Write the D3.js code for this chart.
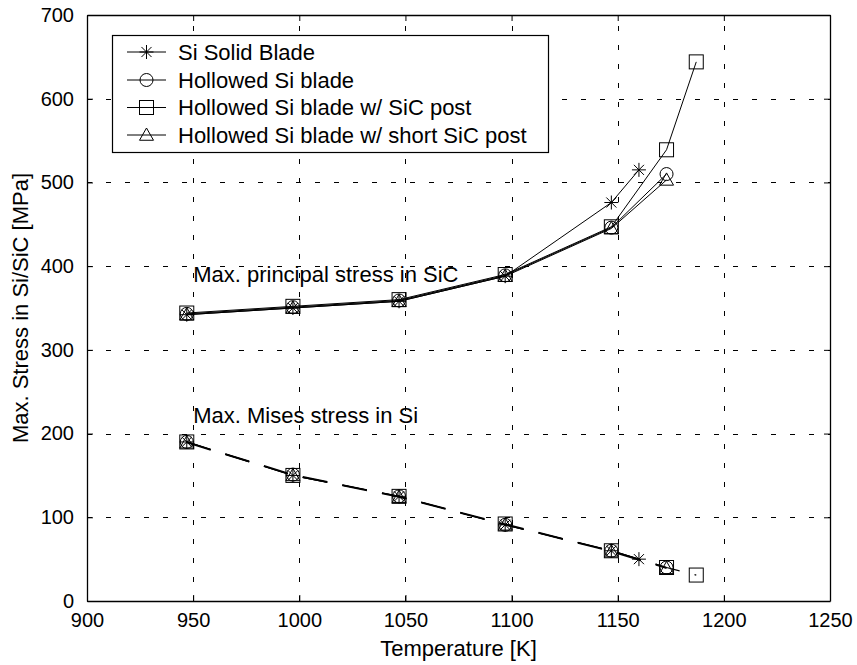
<!DOCTYPE html>
<html>
<head>
<meta charset="utf-8">
<script src="https://cdn.jsdelivr.net/npm/d3@7"></script>
<style>
  html, body { margin: 0; padding: 0; background: #fff; }
  text { font-family: "Liberation Sans", Arial, Helvetica, sans-serif; fill: #000; }
</style>
</head>
<body>
<svg id="chart" width="857" height="665"></svg>
<script>
// Temperatures [K] at which each blade configuration was evaluated
const solidTemp  = [947, 997, 1047, 1097, 1147, 1160];
const hollowTemp = [947, 997, 1047, 1097, 1147, 1173];
const postTemp   = [947, 997, 1047, 1097, 1147, 1173, 1187];
const shortTemp  = [947, 997, 1047, 1097, 1147, 1173];

// Max. principal stress in SiC [MPa]
const solidPrincipal  = [342, 350, 358, 388, 476, 515];
const hollowPrincipal = [343, 351, 359, 389, 446, 510];
const postPrincipal   = [344, 352, 360, 390, 447, 539, 644];
const shortPrincipal  = [342, 350, 358, 388, 445, 503];

// Max. Mises stress in Si [MPa]
const solidMises  = [190, 150, 125, 91, 60, 50];
const hollowMises = [190, 151, 125, 91, 60, 40];
const postMises   = [190, 150, 125, 92, 60, 40, 31];
const shortMises  = [189, 150, 124, 91, 59, 39];

const seriesNames = [
  "Si Solid Blade",
  "Hollowed Si blade",
  "Hollowed Si blade w/ SiC post",
  "Hollowed Si blade w/ short SiC post"
];
const seriesMarkers = ["star", "circle", "square", "triangle"];

const xTicks = [900, 950, 1000, 1050, 1100, 1150, 1200, 1250];
const yTicks = [0, 100, 200, 300, 400, 500, 600, 700];

(function () {
  const series = [
    { name: seriesNames[0], marker: seriesMarkers[0], t: solidTemp,  p: solidPrincipal,  m: solidMises },
    { name: seriesNames[1], marker: seriesMarkers[1], t: hollowTemp, p: hollowPrincipal, m: hollowMises },
    { name: seriesNames[2], marker: seriesMarkers[2], t: postTemp,   p: postPrincipal,   m: postMises },
    { name: seriesNames[3], marker: seriesMarkers[3], t: shortTemp,  p: shortPrincipal,  m: shortMises }
  ];

  const svg = d3.select("#chart");
  const L = 87, R = 830, T = 15, B = 601;
  const FS = 22;

  const x = d3.scaleLinear().domain([900, 1250]).range([L, R]);
  const y = d3.scaleLinear().domain([0, 700]).range([B, T]);

  // Dotted grid
  const grid = svg.append("g").attr("stroke", "#000").attr("stroke-width", 1)
    .attr("stroke-dasharray", "5,14").attr("shape-rendering", "crispEdges");
  xTicks.slice(1, -1).forEach(v => {
    grid.append("line").attr("x1", Math.round(x(v)) + 0.5).attr("x2", Math.round(x(v)) + 0.5)
      .attr("y1", B).attr("y2", T);
  });
  yTicks.slice(1, -1).forEach(v => {
    grid.append("line").attr("y1", Math.round(y(v)) + 0.5).attr("y2", Math.round(y(v)) + 0.5)
      .attr("x1", L).attr("x2", R);
  });

  // Axes with inward ticks on all four sides
  const tickLen = 6;
  const fmt = d3.format("d");
  const xAxisB = d3.axisBottom(x).tickValues(xTicks).tickFormat(fmt).tickSizeInner(-tickLen).tickSizeOuter(0).tickPadding(12);
  const xAxisT = d3.axisTop(x).tickValues(xTicks).tickSizeInner(-tickLen).tickSizeOuter(0).tickFormat("");
  const yAxisL = d3.axisLeft(y).tickValues(yTicks).tickFormat(fmt).tickSizeInner(-tickLen).tickSizeOuter(0).tickPadding(13);
  const yAxisR = d3.axisRight(y).tickValues(yTicks).tickSizeInner(-tickLen).tickSizeOuter(0).tickFormat("");

  function styleAxis(g) {
    g.select(".domain").attr("stroke", "#000").attr("stroke-width", 1.3);
    g.selectAll(".tick line").attr("stroke", "#000");
    g.selectAll(".tick text").attr("font-size", 20).attr("fill", "#000")
      .attr("font-family", "'Liberation Sans', Arial, sans-serif");
  }
  svg.append("g").attr("transform", `translate(0,${B})`).call(xAxisB).call(styleAxis);
  svg.append("g").attr("transform", `translate(0,${T})`).call(xAxisT).call(styleAxis);
  svg.append("g").attr("transform", `translate(${L},0)`).call(yAxisL).call(styleAxis);
  svg.append("g").attr("transform", `translate(${R},0)`).call(yAxisR).call(styleAxis);

  // Axis titles
  svg.append("text").attr("x", (L + R) / 2).attr("y", 656)
    .attr("text-anchor", "middle").attr("font-size", FS).text("Temperature [K]");
  svg.append("text").attr("transform", `translate(28,${(T + B) / 2}) rotate(-90)`)
    .attr("text-anchor", "middle").attr("font-size", FS).text("Max. Stress in Si/SiC [MPa]");

  // Marker drawing
  function drawMarker(g, type, cx, cy) {
    const s = 7;
    if (type === "star") {
      const d = s * 0.72;
      g.append("path").attr("d",
        `M${cx - s},${cy}L${cx + s},${cy}M${cx},${cy - s}L${cx},${cy + s}` +
        `M${cx - d},${cy - d}L${cx + d},${cy + d}M${cx - d},${cy + d}L${cx + d},${cy - d}`)
        .attr("fill", "none").attr("stroke", "#000").attr("stroke-width", 1);
    } else if (type === "circle") {
      g.append("circle").attr("cx", cx).attr("cy", cy).attr("r", s - 0.5)
        .attr("fill", "none").attr("stroke", "#000").attr("stroke-width", 1);
    } else if (type === "square") {
      g.append("rect").attr("x", cx - s).attr("y", cy - s).attr("width", 2 * s).attr("height", 2 * s)
        .attr("fill", "none").attr("stroke", "#000").attr("stroke-width", 1);
    } else if (type === "triangle") {
      g.append("path").attr("d", `M${cx},${cy - s}L${cx + s},${cy + s * 0.75}L${cx - s},${cy + s * 0.75}Z`)
        .attr("fill", "none").attr("stroke", "#000").attr("stroke-width", 1);
    }
  }

  const plot = svg.append("g");

  // Principal stress curves (solid) and Mises stress curves (dashed)
  series.forEach(s => {
    const pts = s.t.map((t, i) => [t, s.p[i]]);
    plot.append("path").datum(pts)
      .attr("d", d3.line().x(d => x(d[0])).y(d => y(d[1])))
      .attr("fill", "none").attr("stroke", "#000").attr("stroke-width", 1);
    const mpts = s.t.map((t, i) => [t, s.m[i]]);
    plot.append("path").datum(mpts)
      .attr("d", d3.line().x(d => x(d[0])).y(d => y(d[1])))
      .attr("fill", "none").attr("stroke", "#000").attr("stroke-width", 1.2)
      .attr("stroke-dasharray", "25,15.4");
  });
  series.forEach(s => {
    const g = plot.append("g");
    s.t.forEach((t, i) => {
      drawMarker(g, s.marker, x(t), y(s.p[i]));
      drawMarker(g, s.marker, x(t), y(s.m[i]));
    });
  });

  // Curve annotations
  svg.append("text").attr("x", x(950)).attr("y", y(390)).attr("dy", "0.35em")
    .attr("font-size", FS).text("Max. principal stress in SiC");
  svg.append("text").attr("x", x(950)).attr("y", y(222)).attr("dy", "0.35em")
    .attr("font-size", FS).text("Max. Mises stress in Si");

  // Legend
  const lg = svg.append("g");
  lg.append("rect").attr("x", 112.5).attr("y", 35.5).attr("width", 436).attr("height", 117)
    .attr("fill", "#fff").attr("stroke", "#000").attr("stroke-width", 1.2);
  const rowY = [52, 80, 107.5, 135];
  series.forEach((s, i) => {
    const ry = rowY[i];
    lg.append("line").attr("x1", 127).attr("x2", 166).attr("y1", ry).attr("y2", ry)
      .attr("stroke", "#000").attr("stroke-width", 1);
    drawMarker(lg, s.marker, 146.5, ry);
    lg.append("text").attr("x", 178).attr("y", ry).attr("dy", "0.35em")
      .attr("font-size", FS).text(s.name);
  });
})();
</script>
</body>
</html>
